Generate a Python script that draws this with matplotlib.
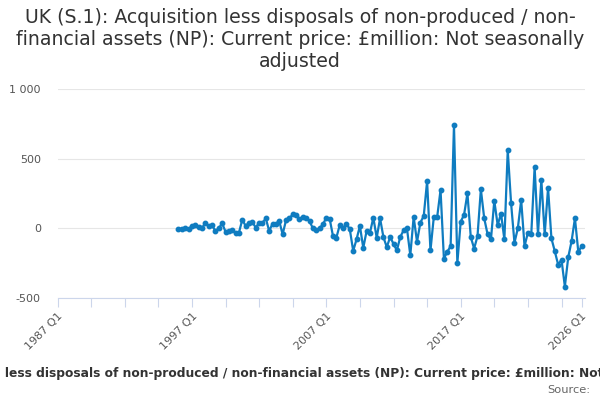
import matplotlib
matplotlib.use("Agg")
import matplotlib.pyplot as plt

# Quarter categories on the axis: 1987 Q1 .. 2026 Q1
years = list(range(1987, 2027))
quarters = [f"{y} Q{q}" for y in years for q in (1, 2, 3, 4)][:157]

# Series starts at 1996 Q1 (£million)
first_quarter = "1996 Q1"
values = [
    -5, -2, 2, -7, 17, 21, 10, 2, 38, 17, 21, -19, 0, 36, -24, -19,
    -14, -31, -31, 62, 17, 40, 45, 5, 40, 40, 71, -19, 33, 33, 52, -43,
    57, 71, 100, 95, 64, 83, 76, 52, 0, -14, 0, 29, 76, 69, -57, -67,
    24, 0, 33, -7, -162, -79,
    17, -140, -19, -31, 77, -68, 72, -63, -135, -63, -111, -159, -63, -14,
    0, -193, 82, -97, 41, 89, 338, -159, 82, 82, 275, -217, -169, -128,
    741, -249, 48, 97, 251, -63, -145, -56, 280, 72, -43, -80, 198, 24,
    106, -80, 560, 179, -104, 0, 203, -128, -31, -43, 440, -43, 348, -43,
    290, -72, -164, -261, -225, -418, -208, -92, 72, -169, -128,
]

y_ticks = [-500, 0, 500, 1000]
y_labels = ["-500", "0", "500", "1 000"]
labelled = ["1987 Q1", "1997 Q1", "2007 Q1", "2017 Q1", "2026 Q1"]

title = ("UK (S.1): Acquisition less disposals of non-produced / non-\n"
         "financial assets (NP): Current price: £million: Not seasonally\n"
         "adjusted")
caption_head = "UK (S.1): Acquisition "
caption = (caption_head + "less disposals of non-produced / "
           "non-financial assets (NP): Current price: £million: "
           "Not seasonally adjusted")

start = quarters.index(first_quarter)
xs = list(range(start, start + len(values)))

fig = plt.figure(figsize=(6, 4), dpi=100)
ax = fig.add_axes([57.5 / 600, 1 - 298 / 400, (585 - 57.5) / 600, 209 / 400])

ax.plot(xs, values, color="#0f7cc0", lw=1.6, marker="o", ms=3.2,
        solid_joinstyle="round")

ax.set_xlim(0, (585 - 57.5) / 3.36)
ax.set_ylim(-500, 1000)

ax.set_yticks(y_ticks)
ax.set_yticklabels(y_labels)
ax.tick_params(axis="y", length=0, pad=12, labelsize=8, labelcolor="#555555")

tick_pos = list(range(0, 151, 10)) + [len(quarters) - 1]
ax.set_xticks(tick_pos)
ax.set_xticklabels([quarters[p] if quarters[p] in labelled else "" for p in tick_pos],
                   rotation=45, ha="right", va="top", rotation_mode="anchor")
ax.tick_params(axis="x", length=6.5, color="#ccd6eb", width=0.8,
               labelsize=8, labelcolor="#555555", pad=3)

ax.grid(axis="y", color="#e6e6e6", lw=0.8)
ax.set_axisbelow(True)
for s in ("top", "right", "left"):
    ax.spines[s].set_visible(False)
ax.spines["bottom"].set_color("#ccd6eb")
ax.spines["bottom"].set_linewidth(0.8)

fig.text(0.5, 1 - 8 / 400, title, ha="center", va="top", fontsize=13.6,
         color="#333333", linespacing=1.2)

# the long caption overflows the figure; place it so "less" starts near x=5px
cap_kw = dict(fontsize=8.8, fontweight="bold", color="#333333")
renderer = fig.canvas.get_renderer()
probe = fig.text(0, 0, caption_head.rstrip() + "\u00a0", **cap_kw)
head_w = probe.get_window_extent(renderer).width
probe.remove()
fig.text((5 - head_w) / 600, 1 - 373 / 400, caption, ha="left", va="center",
         **cap_kw)
fig.text(590 / 600, 1 - 390 / 400, "Source:", ha="right", va="center",
         fontsize=8.2, color="#666666")

fig.savefig("out.png", dpi=100)
